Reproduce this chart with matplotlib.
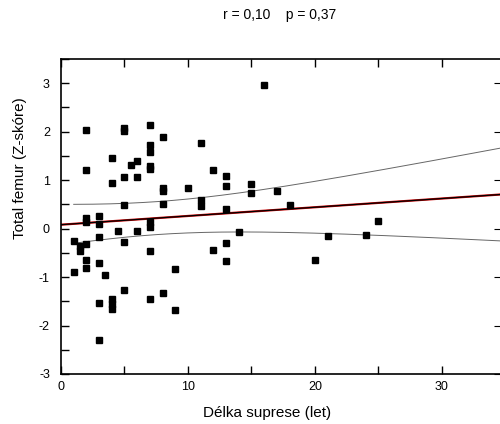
import numpy as np
import matplotlib
matplotlib.use("Agg")
import matplotlib.pyplot as plt

plt.rcParams['font.family'] = ['Liberation Sans', 'DejaVu Sans']

# délka suprese (roky) a Z-skóre total femur
suprese = [1, 1,
           1.5, 1.5,
           2, 2, 2, 2, 2, 2, 2,
           3, 3, 3, 3, 3, 3,
           3.5,
           4, 4, 4, 4, 4,
           4.5,
           5, 5, 5, 5, 5, 5,
           5.5,
           6, 6, 6,
           7, 7, 7, 7, 7, 7, 7, 7, 7,
           8, 8, 8, 8, 8,
           9, 9,
           10,
           11, 11, 11,
           12, 12,
           13, 13, 13, 13, 13,
           14, 15, 15, 16, 17, 18, 20, 21, 24, 25]
zskore = [-0.25, -0.89,
          -0.36, -0.46,
          2.04, 1.21, 0.22, 0.13, -0.32, -0.64, -0.82,
          0.26, 0.10, -0.17, -0.71, -1.53, -2.30,
          -0.95,
          1.45, 0.95, -1.45, -1.55, -1.65,
          -0.04,
          2.08, 2.02, 1.06, 0.48, -0.28, -1.27,
          1.31,
          1.40, 1.06, -0.04,
          2.14, 1.73, 1.59, 1.30, 1.23, 0.14, 0.03, -0.47, -1.45,
          1.89, 0.83, 0.78, 0.51, -1.32,
          -0.83, -1.69,
          0.84,
          1.76, 0.58, 0.46,
          1.20, -0.44,
          1.08, 0.87, 0.41, -0.30, -0.66,
          -0.08, 0.91, 0.74, 2.97, 0.77, 0.48, -0.65, -0.15, -0.13, 0.15]

# regresní přímka a 95% pás spolehlivosti (odečteno z grafu,
# část bodů se v grafu překrývá)
fit_intercept = 0.08
fit_slope = 0.018
ci_min_hw = 0.34      # nejužší polovina pásu
ci_center = 7.5       # průměr x
ci_curv = 0.00109     # růst kvadrátu poloviny pásu

x = np.array(suprese, dtype=float)
y = np.array(zskore, dtype=float)

x_max = 34.57
xl = np.linspace(0, x_max, 200)
xc = np.linspace(x.min(), x_max, 200)
yc = fit_intercept + fit_slope * xc
hw = np.sqrt(ci_min_hw ** 2 + ci_curv * (xc - ci_center) ** 2)

fig = plt.figure(figsize=(5, 4.24), dpi=100)
ax = fig.add_axes([0.122, 0.118, 0.878, 0.743])

ax.plot(xc, yc + hw, color='#666666', lw=0.7)
ax.plot(xc, yc - hw, color='#666666', lw=0.7)
ax.plot(xl, fit_intercept + fit_slope * xl, color='#cc0000', lw=1.6)
ax.plot(xl, fit_intercept + fit_slope * xl, color='black', lw=0.9)
ax.plot(x, y, 's', color='black', ms=5, mec='black', clip_on=False)

ax.set_xlim(0, x_max)
ax.set_ylim(-3, 3.5)

ax.set_xticks(np.arange(0, 35, 5))
ax.set_xticklabels(['0', '', '10', '', '20', '', '30'], fontsize=9)
ax.set_yticks(np.arange(-3, 3.6, 0.5))
ax.set_yticklabels([str(int(v)) if v == int(v) else '' for v in np.arange(-3, 3.6, 0.5)],
                   fontsize=9)
ax.tick_params(axis='both', direction='in', length=6, width=1, top=True, right=False)
ax.tick_params(axis='x', pad=5)
ax.tick_params(axis='y', pad=8)
ax.spines['right'].set_visible(False)
for sp in ['left', 'bottom', 'top']:
    ax.spines[sp].set_linewidth(1.2)

ax2 = ax.twinx()
ax2.set_ylim(-3, 3.5)
ax2.set_yticks(np.arange(-3, 4, 1))
ax2.set_yticklabels([])
ax2.tick_params(axis='y', direction='in', length=4, width=0.8)
for sp in ax2.spines.values():
    sp.set_visible(False)

fig.text(0.56, 0.965, 'r = 0,10    p = 0,37', ha='center', va='center', fontsize=10)
fig.text(0.534, 0.026, 'Délka suprese (let)', ha='center', va='center', fontsize=11)
fig.text(0.04, 0.604, 'Total femur (Z-skóre)', ha='center', va='center',
         rotation=90, fontsize=11)

fig.savefig('out.png', dpi=100)
